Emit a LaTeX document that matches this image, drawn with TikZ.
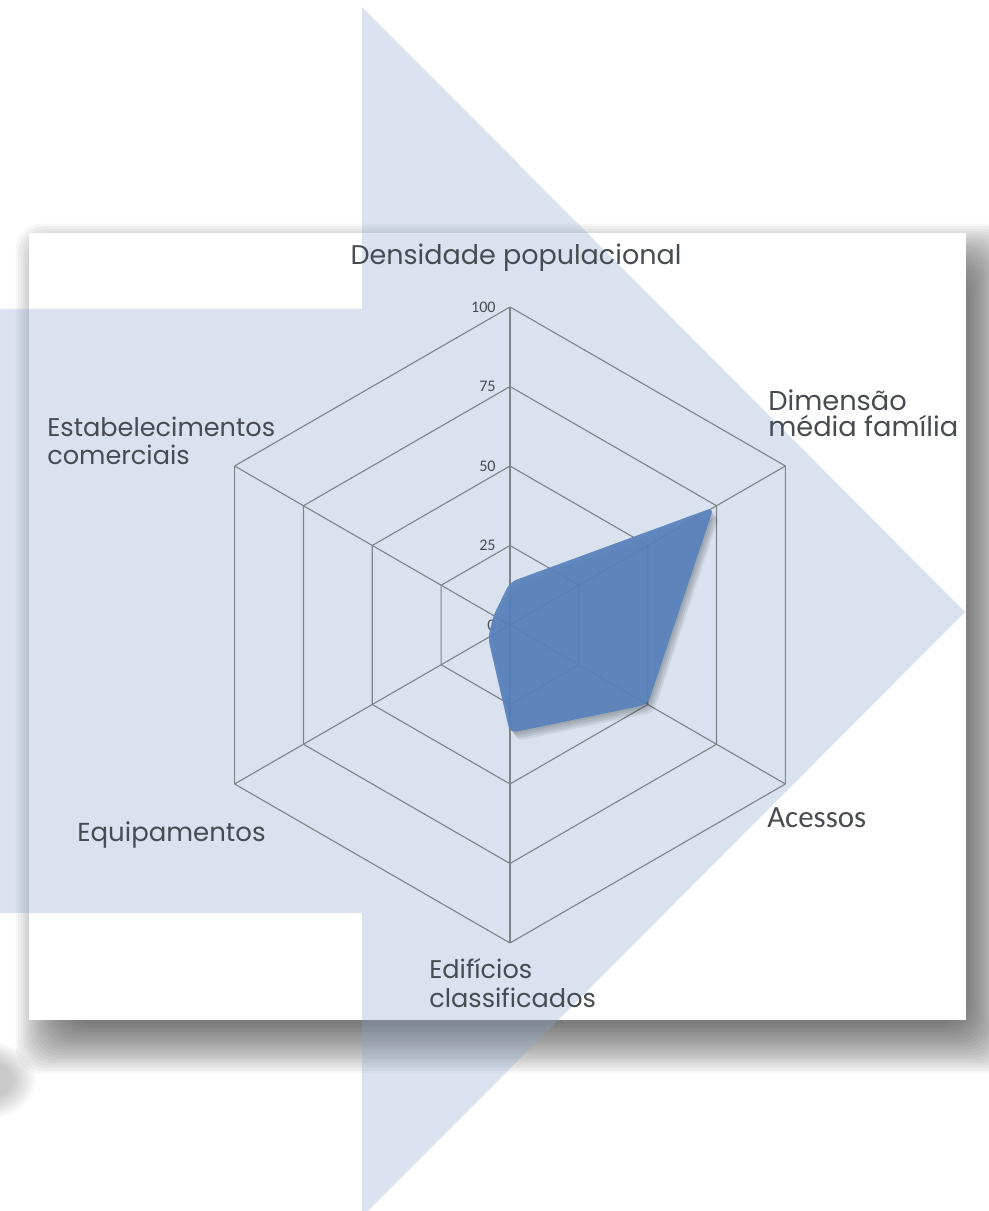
\documentclass[tikz,border=0pt]{standalone}
\usepackage{fontspec}
\setmainfont{Poppins}
\newfontfamily\calfont{Carlito}
\usetikzlibrary{positioning}

\definecolor{arrowblue}{RGB}{132,162,202}
\definecolor{gridgray}{RGB}{128,132,138}
\definecolor{textgray}{RGB}{72,76,82}
\definecolor{datablue}{RGB}{88,130,188}

\begin{document}
\begin{tikzpicture}[x=0.25mm, y=0.25mm]
  \tikzset{AxisStyle/.style  = {draw=gridgray, line width=0.8pt, line join=round},
           LabelStyle/.style = {text=textgray, inner sep=0pt, align=left,
                                font=\fontsize{18.5}{18.5}\selectfont},
           TickStyle/.style  = {text=textgray, inner sep=0pt,
                                font=\calfont\fontsize{11.5}{11.5}\selectfont}}
  \useasboundingbox (0,0) rectangle (989,1211);
  \clip (0,0) rectangle (989,1211);
  %%% OMBRE DU CADRE %%%
  \foreach \k in {0,...,19}
    \fill[black, opacity=0.034, rounded corners=18]
      ({47-(-18+2.6*\k)},{169-(-18+2.6*\k)}) rectangle ({984+(-18+2.6*\k)},{956+(-18+2.6*\k)});
  \foreach \k in {0,...,9}
    \fill[black, opacity=0.025] (-25,131) ellipse ({38+2.5*\k} and {22+2.2*\k});
  %%% CADRE %%%
  \fill[white] (29,191) rectangle (966,978);
  %%% FLECHE %%%
  \fill[arrowblue, opacity=0.3] (0,902) -- (362,902) -- (362,1204) -- (965,599)
    -- (362,-6) -- (362,298) -- (0,298) -- cycle;
  %%% RADAR %%%
  \begin{scope}[shift={(510,586)}]
    \coordinate (ctr) at (0,0);
    \foreach \a/\n in {90/dens,30/dim,-30/aces,-90/edif,-150/equip,150/estab}
      \coordinate (ax-\n) at (\a:318);
    \foreach \r [evaluate=\r as \rr using \r*79.5] in {1,...,4}
      \draw[AxisStyle] (90:\rr) -- (30:\rr) -- (-30:\rr) -- (-90:\rr)
        -- (-150:\rr) -- (150:\rr) -- cycle;
    \foreach \n in {dens,dim,aces,edif,equip,estab}
      \draw[AxisStyle] (ctr) -- (ax-\n);
    %
    \foreach \r/\v in {0/0,1/25,2/50,3/75,4/100}
      \coordinate (lv\v) at (0,\r*79.5);
    \foreach \v in {0,25,50,75,100}
      \node[TickStyle, left=10pt of lv\v, anchor=east](t\v){\v};
    %
    \foreach \k in {1,...,4}
      \fill[black, opacity=0.07, shift={(1.5*\k,-2*\k)}, rounded corners=5]
        (90:42.9) -- (30:235.3) -- (-30:159) -- (-90:108) -- (-150:25.4) -- (150:19.1) -- cycle;
    \fill[datablue, opacity=0.93, rounded corners=5]
      (90:42.9) -- (30:235.3) -- (-30:159) -- (-90:108) -- (-150:25.4) -- (150:19.1) -- cycle;
  \end{scope}
  %%% ETIQUETTES %%%
  \node[LabelStyle, anchor=base, font=\fontsize{19.2}{19.2}\selectfont](dens) at (516,946)
    {Densidade populacional};
  \node[LabelStyle, anchor=north west, font=\fontsize{19.4}{18.6}\selectfont](dim) at (768,822)
    {Dimensão\\média família};
  \node[LabelStyle, anchor=base west, font=\calfont\fontsize{22}{22}\selectfont](aces) at (767,383)
    {Acessos};
  \node[LabelStyle, anchor=north west, font=\fontsize{18.2}{20.5}\selectfont](edif) at (429,253)
    {Edifícios\\classificados};
  \node[LabelStyle, anchor=base west](equip) at (77,369) {Equipamentos};
  \node[LabelStyle, anchor=north west, font=\fontsize{18.2}{20}\selectfont](estab) at (47,794)
    {Estabelecimentos\\comerciais};
\end{tikzpicture}
\end{document}
